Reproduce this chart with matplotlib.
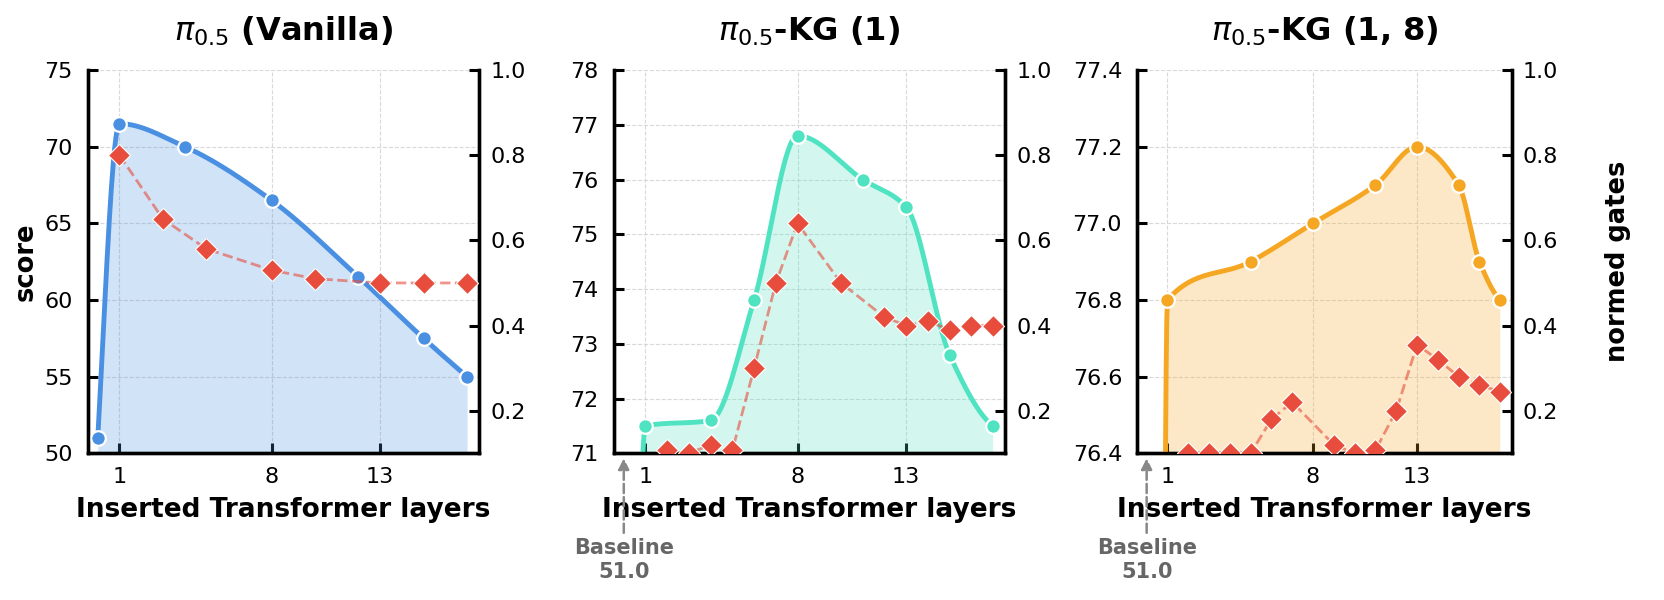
import numpy as np
import matplotlib
matplotlib.use("Agg")
import matplotlib.pyplot as plt

# ---------------- data ----------------
titles = [r"$\pi_{0.5}$ (Vanilla)", r"$\pi_{0.5}$-KG (1)", r"$\pi_{0.5}$-KG (1, 8)"]

x_vanilla = [0, 1, 4, 8, 12, 15, 17]
score_vanilla = [51.0, 71.5, 70.0, 66.5, 61.5, 57.5, 55.0]
gx_vanilla = [1, 3, 5, 8, 10, 13, 15, 17]
gate_vanilla = [0.80, 0.65, 0.58, 0.53, 0.51, 0.50, 0.50, 0.50]

x_kg1 = [0, 1, 4, 6, 8, 11, 13, 15, 17]
score_kg1 = [51.0, 71.5, 71.6, 73.8, 76.8, 76.0, 75.5, 72.8, 71.5]
gx_kg1 = [2, 3, 4, 5, 6, 7, 8, 10, 12, 13, 14, 15, 16, 17]
gate_kg1 = [0.107, 0.10, 0.12, 0.107, 0.30, 0.50, 0.64, 0.50, 0.42, 0.40, 0.41, 0.39, 0.40, 0.40]

x_kg18 = [0, 1, 5, 8, 11, 13, 15, 16, 17]
score_kg18 = [51.0, 76.8, 76.9, 77.0, 77.1, 77.2, 77.1, 76.9, 76.8]
gx_kg18 = [2, 3, 4, 5, 6, 7, 9, 10, 11, 12, 13, 14, 15, 16, 17]
gate_kg18 = [0.10, 0.10, 0.10, 0.10, 0.18, 0.22, 0.12, 0.10, 0.107, 0.20, 0.355, 0.32, 0.28, 0.26, 0.245]

score_ylims = [(50, 75), (71, 78), (76.4, 77.4)]
score_ticks = [[50, 55, 60, 65, 70, 75],
               [71, 72, 73, 74, 75, 76, 77, 78],
               [76.4, 76.6, 76.8, 77.0, 77.2, 77.4]]
gate_ticks = [0.2, 0.4, 0.6, 0.8, 1.0]
x_ticks = [1, 8, 13]
baseline_value = 51.0

line_colors = ["#4A90E2", "#50E3C2", "#F5A623"]
gate_color = "#E74C3C"


def pchip(x, y, xs):
    x = np.asarray(x, float)
    y = np.asarray(y, float)
    h = np.diff(x)
    m = np.diff(y) / h
    n = len(x)
    d = np.zeros(n)
    for k in range(1, n - 1):
        if m[k - 1] * m[k] > 0:
            w1 = 2 * h[k] + h[k - 1]
            w2 = h[k] + 2 * h[k - 1]
            d[k] = (w1 + w2) / (w1 / m[k - 1] + w2 / m[k])

    def end(h0, h1, m0, m1):
        dd = ((2 * h0 + h1) * m0 - h0 * m1) / (h0 + h1)
        if np.sign(dd) != np.sign(m0):
            dd = 0.0
        elif np.sign(m0) != np.sign(m1) and abs(dd) > abs(3 * m0):
            dd = 3 * m0
        return dd

    d[0] = end(h[0], h[1], m[0], m[1])
    d[-1] = end(h[-1], h[-2], m[-1], m[-2])
    idx = np.clip(np.searchsorted(x, xs) - 1, 0, n - 2)
    t = (xs - x[idx]) / h[idx]
    h00 = 2 * t**3 - 3 * t**2 + 1
    h10 = t**3 - 2 * t**2 + t
    h01 = -2 * t**3 + 3 * t**2
    h11 = t**3 - t**2
    return h00 * y[idx] + h10 * h[idx] * d[idx] + h01 * y[idx + 1] + h11 * h[idx] * d[idx + 1]


plt.rcParams["font.family"] = ["DejaVu Sans"]
plt.rcParams["mathtext.fontset"] = "dejavusans"

fig = plt.figure(figsize=(16.65, 6.0), dpi=100)
W, H = 1665.0, 600.0
lefts = [88.0, 614.0, 1137.3]
widths = [391.0, 391.0, 374.4]
top_px, bot_px = 70.0, 453.3

series = [(x_vanilla, score_vanilla, gx_vanilla, gate_vanilla),
          (x_kg1, score_kg1, gx_kg1, gate_kg1),
          (x_kg18, score_kg18, gx_kg18, gate_kg18)]

for i in range(3):
    ax = fig.add_axes([lefts[i] / W, (H - bot_px) / H, widths[i] / W, (bot_px - top_px) / H])
    xs, ys, gx, gy = series[i]
    col = line_colors[i]
    ylo, yhi = score_ylims[i]

    xx = np.linspace(xs[0], xs[-1], 600)
    yy = pchip(xs, ys, xx)
    ax.fill_between(xx, yy, ylo, color=col, alpha=0.25, linewidth=0, zorder=1)
    ax.plot(xx, yy, color=col, lw=3.5, zorder=3, solid_capstyle="round")
    ax.plot(xs, ys, linestyle="none", marker="o", ms=10.5, mfc=col, mec="white", mew=1.6, zorder=4)

    ax.set_xlim(-0.45, 17.55)
    ax.set_ylim(ylo, yhi)
    ax.set_xticks(x_ticks)
    ax.set_yticks(score_ticks[i])
    ax.grid(True, linestyle="--", color="#d0d0d0", linewidth=0.8, alpha=0.8, zorder=0)
    ax.set_axisbelow(True)
    for s in ["left", "right", "bottom"]:
        ax.spines[s].set_linewidth(2.4)
        ax.spines[s].set_color("black")
    ax.spines["top"].set_visible(False)
    ax.tick_params(axis="both", direction="in", length=7, width=2.2, labelsize=16)
    ax.tick_params(axis="x", pad=10)
    ax.tick_params(axis="y", pad=11, right=False)
    ax.set_xlabel("Inserted Transformer layers", fontsize=19, fontweight="bold", labelpad=7)
    ax.set_title(titles[i], fontsize=23, fontweight="bold", pad=21)
    if i == 0:
        ax.set_ylabel("score", fontsize=18.5, fontweight="bold")

    ax2 = ax.twinx()
    ax2.plot(gx, gy, linestyle="--", color=gate_color, lw=2.0, alpha=0.6, zorder=2)
    ax2.plot(gx, gy, linestyle="none", marker="D", ms=11.5, mfc=gate_color, mec="white",
             mew=0.8, zorder=3)
    ax2.set_ylim(0.1, 1.0)
    ax2.set_yticks(gate_ticks)
    ax2.spines["top"].set_visible(False)
    for s in ["left", "right", "bottom"]:
        ax2.spines[s].set_linewidth(2.4)
    ax2.tick_params(axis="y", direction="in", length=7, width=2.2, labelsize=16, pad=8)
    if i == 2:
        ax2.set_ylabel("normed gates", fontsize=18.5, fontweight="bold", labelpad=34)

    if min(score_ylims[i]) > baseline_value:
        ax.annotate("Baseline\n%.1f" % baseline_value,
                    xy=(xs[0], -0.013), xycoords=("data", "axes fraction"),
                    xytext=(xs[0], -0.222), textcoords=("data", "axes fraction"),
                    ha="center", va="top", fontsize=15, fontweight="bold", color="#666666",
                    linespacing=1.25, annotation_clip=False,
                    arrowprops=dict(arrowstyle="-|>", color="#888888", lw=1.8,
                                    linestyle="--", shrinkA=2, shrinkB=0,
                                    mutation_scale=16))

fig.savefig("out.png", dpi=100)
